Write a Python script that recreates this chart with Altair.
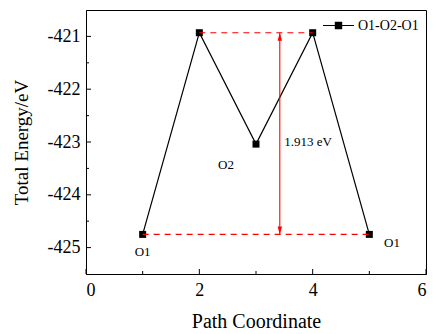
import altair as alt
import pandas as pd

# ---- data ----
path_x = [1, 2, 3, 4, 5]
energy = [-424.75, -420.93, -423.04, -420.93, -424.75]
series_name = "O1-O2-O1"

site_labels = ["O1", "O2", "O1"]
site_label_x = [1.0, 2.47, 5.40]
site_label_y = [-425.08, -423.43, -424.92]

barrier_text = ["1.913 eV"]
barrier_text_x = [3.92]
barrier_text_y = [-423.0]

ref_y = [-420.93, -424.75]
ref_x1 = [2, 1]
ref_x2 = [4, 5]

arrow_x = [3.42]
arrow_top = [-420.93]
arrow_bottom = [-424.75]

x_ticks_major = [0, 2, 4, 6]
x_ticks_minor = [1, 3, 5]
y_ticks_major = [-425, -424, -423, -422, -421]
y_ticks_minor = [-424.5, -423.5, -422.5, -421.5]

FONT = "Liberation Serif, Times New Roman, serif"

# ---- tables ----
main_df = pd.DataFrame({"x": path_x, "y": energy, "series": [series_name] * len(path_x)})
lab_df = pd.DataFrame({"x": site_label_x, "y": site_label_y, "t": site_labels})
bar_df = pd.DataFrame({"x": barrier_text_x, "y": barrier_text_y, "t": barrier_text})
ref_df = pd.DataFrame({"x": ref_x1, "x2": ref_x2, "y": ref_y})
arr_df = pd.DataFrame({"x": arrow_x, "y": arrow_top, "y2": arrow_bottom})
arr_top_df = pd.DataFrame({"x": arrow_x, "y": arrow_top})
arr_bot_df = pd.DataFrame({"x": arrow_x, "y": arrow_bottom})
xmaj_df = pd.DataFrame({"x": x_ticks_major})
xmin_df = pd.DataFrame({"x": x_ticks_minor})
ymaj_df = pd.DataFrame({"y": y_ticks_major})
ymin_df = pd.DataFrame({"y": y_ticks_minor})

x_scale = alt.Scale(domain=[0, 6], nice=False, zero=False)
y_scale = alt.Scale(domain=[-425.5, -420.5], nice=False, zero=False)

x_enc = alt.X("x:Q", scale=x_scale, axis=alt.Axis(
    values=x_ticks_major, labelExpr="'' + datum.value", title="Path Coordinate", tickSize=0,
    labelFont=FONT, titleFont=FONT, labelFontSize=18, titleFontSize=20,
    labelPadding=7, titlePadding=12, grid=False))
y_enc = alt.Y("y:Q", scale=y_scale, axis=alt.Axis(
    values=y_ticks_major, labelExpr="'' + datum.value", title="Total Energy/eV", tickSize=0,
    labelFont=FONT, titleFont=FONT, labelFontSize=18, titleFontSize=19,
    labelPadding=6, titlePadding=16, grid=False))

line = alt.Chart(main_df).mark_line(strokeWidth=1.2).encode(
    x=x_enc, y=y_enc,
    color=alt.Color("series:N", scale=alt.Scale(range=["black"]), legend=alt.Legend(
        title=None, orient="none", legendX=236, legendY=-1,
        symbolType="M-1,0H1M-0.2,-0.2H0.2V0.2H-0.2Z", symbolSize=961,
        symbolStrokeWidth=1.2, symbolFillColor="black", symbolStrokeColor="black",
        labelFont=FONT, labelFontSize=14, labelColor="black", labelOffset=3,
        padding=0)),
)
squares = alt.Chart(main_df).mark_square(size=49, filled=True, color="black", opacity=1).encode(
    x=x_enc, y=y_enc)

refs = alt.Chart(ref_df).mark_rule(color="#ff0000", strokeWidth=1.1, strokeDash=[6, 5]).encode(
    x=x_enc, x2="x2:Q", y=y_enc)

arrow_line = alt.Chart(arr_df).mark_rule(color="#ff0000", strokeWidth=1.1).encode(
    x=x_enc, y=y_enc, y2="y2:Q")
head_up = alt.Chart(arr_top_df).mark_point(
    shape="M0,0L0.55,2L-0.55,2Z", size=64, filled=True, color="#ff0000", opacity=1,
    strokeWidth=0.5).encode(x=x_enc, y=y_enc)
head_down = alt.Chart(arr_bot_df).mark_point(
    shape="M0,0L0.55,-2L-0.55,-2Z", size=64, filled=True, color="#ff0000", opacity=1,
    strokeWidth=0.5).encode(x=x_enc, y=y_enc)

labels = alt.Chart(lab_df).mark_text(font=FONT, fontSize=13, color="black").encode(
    x=x_enc, y=y_enc, text="t:N")
bar_label = alt.Chart(bar_df).mark_text(font=FONT, fontSize=13, color="black").encode(
    x=x_enc, y=y_enc, text="t:N")

# inward ticks
ymaj = alt.Chart(ymaj_df).mark_rule(color="black", strokeWidth=1).encode(
    y=y_enc, x=alt.value(0), x2=alt.value(5))
ymin = alt.Chart(ymin_df).mark_rule(color="black", strokeWidth=1).encode(
    y=y_enc, x=alt.value(0), x2=alt.value(3))
xmaj = alt.Chart(xmaj_df).mark_rule(color="black", strokeWidth=1).encode(
    x=x_enc, y=alt.value(264), y2=alt.value(259))
xmin = alt.Chart(xmin_df).mark_rule(color="black", strokeWidth=1).encode(
    x=x_enc, y=alt.value(264), y2=alt.value(261))

chart = alt.layer(
    ymaj, ymin, xmaj, xmin, line, squares, refs, arrow_line, head_up, head_down, labels, bar_label
).properties(
    width=340, height=264,
    autosize=alt.AutoSizeParams(type="none"),
    padding={"left": 78, "top": 2, "right": 10, "bottom": 58},
).configure_view(
    stroke="black", strokeWidth=1
).configure_axis(
    domainColor="black", domainWidth=1, labelColor="black", titleColor="black",
    titleFontWeight="normal"
)

chart.save("out.html", embed_options={"renderer": "svg", "actions": False})
